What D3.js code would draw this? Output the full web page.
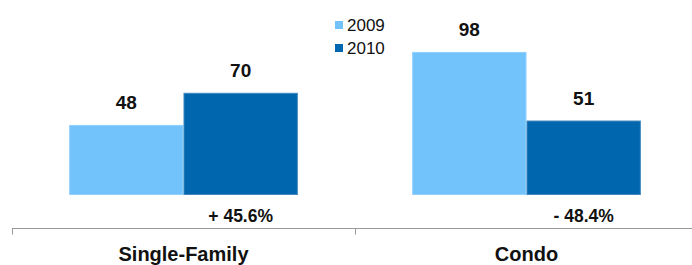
<!DOCTYPE html>
<html>
<head>
<meta charset="utf-8">
<script src="https://cdn.jsdelivr.net/npm/d3@7"></script>
<style>
  body { margin: 0; background: #fff; }
  svg { display: block; font-family: "Liberation Sans", Arial, sans-serif; }
</style>
</head>
<body>
<div id="chart"></div>
<script>
// sales by property type, 2009 vs 2010

var categories = ["Single-Family", "Condo"];
var series = ["2009", "2010"];
var values2009 = [48, 98];
var values2010 = [70, 51];
var changeLabels = ["+ 45.6%", "- 48.4%"];

var width = 692,
    height = 265;

var colors = { "2009": "#72c3fc", "2010": "#0066ad" };
var strokes = { "2009": "#8fd0fd", "2010": "#3d86bf" };

var svg = d3.select("#chart").append("svg")
    .attr("width", width)
    .attr("height", height);

var x0 = d3.scaleBand()
    .domain(categories)
    .range([12, 698]);

var x1 = d3.scaleBand()
    .domain(series)
    .range([0, x0.bandwidth()])
    .paddingOuter(0.5);

var y = d3.scaleLinear()
    .domain([0, 100])
    .range([195, 49]);

var rows = categories.map(function(c, i) {
  return { cat: c, vals: [
    { key: "2009", v: values2009[i] },
    { key: "2010", v: values2010[i] }
  ], change: changeLabels[i] };
});

var groups = svg.selectAll("g.cat")
    .data(rows)
    .enter().append("g")
    .attr("class", "cat")
    .attr("transform", function(d) { return "translate(" + x0(d.cat) + ",0)"; });

// bars
groups.selectAll("rect")
    .data(function(d) { return d.vals; })
    .enter().append("rect")
    .attr("x", function(d) { return x1(d.key) + 0.5; })
    .attr("y", function(d) { return y(d.v) + 0.5; })
    .attr("width", x1.bandwidth() - 1)
    .attr("height", function(d) { return y(0) - y(d.v) - 1; })
    .attr("fill", function(d) { return colors[d.key]; })
    .attr("stroke", function(d) { return strokes[d.key]; })
    .attr("stroke-width", 1);

// value labels
groups.selectAll("text.val")
    .data(function(d) { return d.vals; })
    .enter().append("text")
    .attr("class", "val")
    .attr("x", function(d) { return x1(d.key) + x1.bandwidth() / 2; })
    .attr("y", function(d) { return y(d.v) - 16; })
    .attr("text-anchor", "middle")
    .attr("font-size", 19)
    .attr("font-weight", "bold")
    .attr("fill", "#111")
    .text(function(d) { return d.v; });

// % change under 2010 bar
groups.append("text")
    .attr("x", x1("2010") + x1.bandwidth() / 2)
    .attr("y", 222)
    .attr("text-anchor", "middle")
    .attr("font-size", 17.5)
    .attr("font-weight", "bold")
    .attr("fill", "#111")
    .text(function(d) { return d.change; });

// axis line + tick marks
var axisY = 228.5;
svg.append("line")
    .attr("x1", x0.range()[0]).attr("x2", width)
    .attr("y1", axisY).attr("y2", axisY)
    .attr("stroke", "#999");

svg.selectAll("line.tick")
    .data(categories)
    .enter().append("line")
    .attr("class", "tick")
    .attr("x1", function(d) { return Math.round(x0(d)) + 0.5; })
    .attr("x2", function(d) { return Math.round(x0(d)) + 0.5; })
    .attr("y1", axisY).attr("y2", axisY + 6)
    .attr("stroke", "#999");

// category labels
svg.selectAll("text.catlabel")
    .data(categories)
    .enter().append("text")
    .attr("class", "catlabel")
    .attr("x", function(d) { return x0(d) + x0.bandwidth() / 2; })
    .attr("y", 261)
    .attr("text-anchor", "middle")
    .attr("font-size", 20)
    .attr("font-weight", "bold")
    .attr("fill", "#111")
    .text(function(d) { return d; });

// legend
var legend = svg.selectAll("g.legend")
    .data(series)
    .enter().append("g")
    .attr("class", "legend")
    .attr("transform", function(d, i) { return "translate(335," + (21 + i * 23) + ")"; });

legend.append("rect")
    .attr("width", 8).attr("height", 8)
    .attr("fill", function(d) { return colors[d]; });

legend.append("text")
    .attr("x", 12)
    .attr("y", 10)
    .attr("font-size", 17)
    .attr("fill", "#111")
    .text(function(d) { return d; });
</script>
</body>
</html>
